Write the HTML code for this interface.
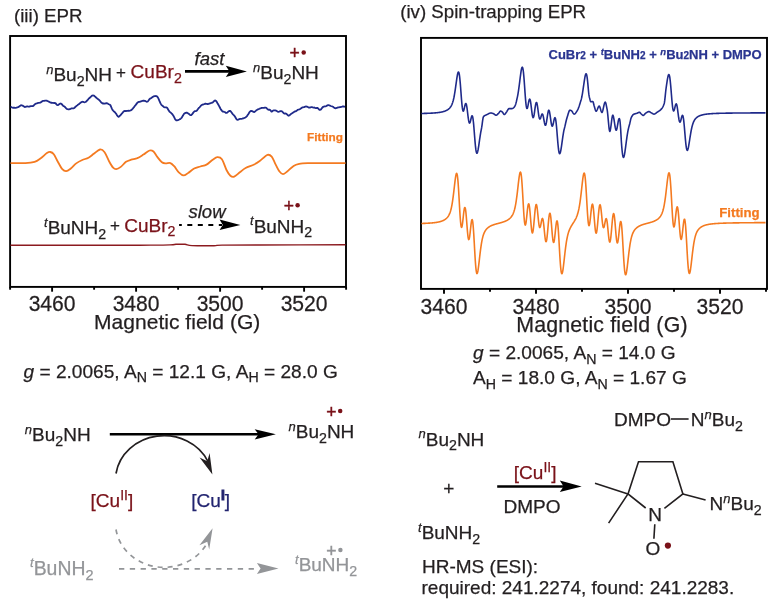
<!DOCTYPE html>
<html><head><meta charset="utf-8"><title>EPR</title>
<style>
html,body{margin:0;padding:0;background:#fff;}
body{width:780px;height:607px;overflow:hidden;}
svg{display:block;will-change:transform;font-family:'Liberation Sans', Arial, Helvetica, sans-serif;}
</style></head><body>
<svg width="780" height="607" viewBox="0 0 780 607">

<text x="14" y="21.7" font-size="18.7" fill="#231f20" stroke="#231f20" stroke-width="0.25">(iii) EPR</text>
<text x="400.2" y="18.3" font-size="18.7" fill="#231f20" stroke="#231f20" stroke-width="0.25">(iv) Spin-trapping EPR</text>
<g fill="none" stroke="#000" stroke-width="1.9">
<rect x="10.1" y="36" width="335.9" height="250.9"/>
<line x1="10.1" y1="286.9" x2="10.1" y2="289.7"/>
<line x1="52.1" y1="286.9" x2="52.1" y2="291.7"/>
<line x1="94.1" y1="286.9" x2="94.1" y2="289.7"/>
<line x1="136.1" y1="286.9" x2="136.1" y2="291.7"/>
<line x1="178.1" y1="286.9" x2="178.1" y2="289.7"/>
<line x1="220.1" y1="286.9" x2="220.1" y2="291.7"/>
<line x1="262.1" y1="286.9" x2="262.1" y2="289.7"/>
<line x1="304.1" y1="286.9" x2="304.1" y2="291.7"/>
<line x1="346.1" y1="286.9" x2="346.1" y2="289.7"/>
<rect x="421" y="37.9" width="346" height="251"/>
<line x1="444.0" y1="288.9" x2="444.0" y2="293.7"/>
<line x1="490.0" y1="288.9" x2="490.0" y2="291.7"/>
<line x1="536.0" y1="288.9" x2="536.0" y2="293.7"/>
<line x1="582.0" y1="288.9" x2="582.0" y2="291.7"/>
<line x1="628.0" y1="288.9" x2="628.0" y2="293.7"/>
<line x1="674.0" y1="288.9" x2="674.0" y2="291.7"/>
<line x1="720.0" y1="288.9" x2="720.0" y2="293.7"/>
<line x1="766.0" y1="288.9" x2="766.0" y2="291.7"/>
</g>
<g font-size="22" fill="#231f20" stroke="#231f20" stroke-width="0.25" text-anchor="middle">
<text transform="translate(52.1,311.3) scale(0.96,1)" x="0" y="0">3460</text>
<text transform="translate(444.0,313.8) scale(0.96,1)" x="0" y="0">3460</text>
<text transform="translate(136.1,311.3) scale(0.96,1)" x="0" y="0">3480</text>
<text transform="translate(536.0,313.8) scale(0.96,1)" x="0" y="0">3480</text>
<text transform="translate(220.1,311.3) scale(0.96,1)" x="0" y="0">3500</text>
<text transform="translate(628.0,313.8) scale(0.96,1)" x="0" y="0">3500</text>
<text transform="translate(304.1,311.3) scale(0.96,1)" x="0" y="0">3520</text>
<text transform="translate(720.0,313.8) scale(0.96,1)" x="0" y="0">3520</text>
</g>
<text x="94" y="329.4" font-size="21" textLength="166.3" lengthAdjust="spacing" fill="#231f20" stroke="#231f20" stroke-width="0.25">Magnetic field (G)</text>
<text x="516.2" y="332.3" font-size="21.3" textLength="171.3" lengthAdjust="spacing" fill="#231f20" stroke="#231f20" stroke-width="0.25">Magnetic field (G)</text>
<path d="M10.50,106.73 L11.25,107.04 L12.00,107.49 L12.75,107.75 L13.50,107.73 L14.25,107.74 L15.00,107.86 L15.75,107.88 L16.50,107.71 L17.25,107.43 L18.00,107.16 L18.75,106.84 L19.50,106.20 L20.25,105.69 L21.00,105.20 L21.75,105.29 L22.50,105.50 L23.25,106.11 L24.00,106.56 L24.75,107.06 L25.50,106.96 L26.25,106.70 L27.00,106.31 L27.75,106.49 L28.50,106.62 L29.25,106.68 L30.00,106.32 L30.75,106.11 L31.50,106.09 L32.25,106.14 L33.00,106.04 L33.75,105.43 L34.50,104.60 L35.25,103.95 L36.00,103.56 L36.75,103.35 L37.50,103.08 L38.25,102.91 L39.00,102.78 L39.75,102.67 L40.50,102.52 L41.25,101.94 L42.00,101.40 L42.75,100.97 L43.50,100.91 L44.25,100.91 L45.00,100.72 L45.75,100.54 L46.50,100.58 L47.25,100.93 L48.00,101.26 L48.75,101.58 L49.50,101.97 L50.25,102.40 L51.00,102.73 L51.75,102.77 L52.50,102.95 L53.25,102.96 L54.00,103.03 L54.75,102.83 L55.50,103.19 L56.25,104.10 L57.00,104.99 L57.75,105.17 L58.50,104.69 L59.25,104.09 L60.00,103.73 L60.75,103.51 L61.50,104.00 L62.25,104.74 L63.00,105.66 L63.75,106.13 L64.50,106.52 L65.25,107.26 L66.00,108.16 L66.75,108.96 L67.50,109.20 L68.25,109.29 L69.00,109.25 L69.75,109.07 L70.50,108.82 L71.25,108.46 L72.00,108.43 L72.75,108.40 L73.50,108.38 L74.25,107.97 L75.00,107.27 L75.75,106.57 L76.50,105.85 L77.25,105.40 L78.00,104.71 L78.75,104.25 L79.50,103.52 L80.25,102.98 L81.00,102.34 L81.75,101.94 L82.50,101.75 L83.25,101.86 L84.00,102.08 L84.75,102.28 L85.50,101.99 L86.25,101.51 L87.00,100.71 L87.75,99.88 L88.50,98.95 L89.25,98.21 L90.00,97.54 L90.75,96.80 L91.50,96.05 L92.25,95.60 L93.00,95.51 L93.75,95.61 L94.50,96.10 L95.25,96.68 L96.00,97.55 L96.75,98.11 L97.50,98.76 L98.25,99.24 L99.00,99.90 L99.75,100.65 L100.50,101.53 L101.25,102.55 L102.00,103.07 L102.75,103.58 L103.50,103.47 L104.25,103.71 L105.00,103.50 L105.75,103.39 L106.50,103.15 L107.25,103.29 L108.00,103.78 L108.75,104.20 L109.50,104.53 L110.25,104.99 L111.00,106.49 L111.75,108.37 L112.50,109.89 L113.25,110.76 L114.00,111.57 L114.75,112.08 L115.50,112.97 L116.25,113.88 L117.00,115.26 L117.75,116.30 L118.50,116.83 L119.25,116.48 L120.00,115.73 L120.75,114.84 L121.50,113.96 L122.25,113.15 L123.00,112.20 L123.75,111.39 L124.50,110.98 L125.25,110.94 L126.00,111.02 L126.75,110.81 L127.50,110.78 L128.25,110.74 L129.00,110.89 L129.75,110.68 L130.50,110.42 L131.25,110.07 L132.00,109.46 L132.75,108.63 L133.50,107.70 L134.25,106.86 L135.00,105.74 L135.75,104.88 L136.50,103.86 L137.25,102.92 L138.00,102.23 L138.75,101.90 L139.50,101.90 L140.25,101.67 L141.00,101.44 L141.75,101.01 L142.50,100.83 L143.25,100.69 L144.00,100.75 L144.75,100.81 L145.50,101.12 L146.25,101.49 L147.00,101.79 L147.75,101.47 L148.50,100.53 L149.25,99.42 L150.00,98.65 L150.75,98.33 L151.50,97.90 L152.25,97.27 L153.00,96.69 L153.75,96.33 L154.50,96.08 L155.25,96.04 L156.00,95.97 L156.75,96.37 L157.50,96.83 L158.25,98.14 L159.00,99.82 L159.75,101.74 L160.50,103.36 L161.25,104.55 L162.00,105.35 L162.75,105.98 L163.50,106.65 L164.25,107.12 L165.00,107.39 L165.75,107.30 L166.50,107.33 L167.25,107.96 L168.00,109.20 L168.75,110.58 L169.50,111.65 L170.25,112.27 L171.00,112.86 L171.75,113.55 L172.50,114.41 L173.25,115.49 L174.00,116.86 L174.75,118.46 L175.50,119.67 L176.25,120.40 L177.00,120.36 L177.75,120.17 L178.50,119.87 L179.25,119.54 L180.00,119.19 L180.75,118.59 L181.50,117.93 L182.25,116.73 L183.00,115.58 L183.75,114.17 L184.50,113.52 L185.25,112.93 L186.00,112.76 L186.75,112.66 L187.50,113.04 L188.25,113.54 L189.00,114.03 L189.75,114.69 L190.50,115.11 L191.25,115.06 L192.00,114.39 L192.75,113.40 L193.50,112.40 L194.25,111.53 L195.00,111.15 L195.75,111.17 L196.50,110.99 L197.25,110.11 L198.00,108.93 L198.75,107.95 L199.50,107.31 L200.25,106.50 L201.00,105.67 L201.75,104.97 L202.50,104.64 L203.25,104.50 L204.00,104.22 L204.75,103.94 L205.50,103.60 L206.25,103.81 L207.00,103.92 L207.75,104.17 L208.50,103.95 L209.25,103.69 L210.00,103.30 L210.75,103.03 L211.50,102.95 L212.25,102.71 L213.00,102.22 L213.75,101.44 L214.50,100.80 L215.25,100.42 L216.00,100.92 L216.75,101.84 L217.50,103.27 L218.25,104.50 L219.00,105.88 L219.75,107.28 L220.50,108.73 L221.25,109.93 L222.00,110.88 L222.75,111.60 L223.50,111.71 L224.25,111.94 L225.00,112.10 L225.75,112.78 L226.50,112.91 L227.25,112.60 L228.00,111.89 L228.75,111.25 L229.50,110.90 L230.25,110.97 L231.00,111.66 L231.75,112.71 L232.50,113.85 L233.25,114.64 L234.00,115.35 L234.75,116.29 L235.50,117.55 L236.25,118.93 L237.00,119.73 L237.75,119.92 L238.50,119.56 L239.25,119.12 L240.00,118.92 L240.75,118.91 L241.50,118.79 L242.25,118.68 L243.00,118.45 L243.75,118.26 L244.50,117.82 L245.25,117.62 L246.00,117.08 L246.75,116.44 L247.50,115.33 L248.25,114.23 L249.00,112.97 L249.75,111.84 L250.50,111.15 L251.25,110.89 L252.00,111.03 L252.75,111.42 L253.50,111.86 L254.25,112.02 L255.00,111.49 L255.75,110.87 L256.50,110.17 L257.25,109.74 L258.00,109.33 L258.75,108.99 L259.50,108.77 L260.25,108.41 L261.00,108.20 L261.75,107.90 L262.50,107.85 L263.25,107.86 L264.00,107.93 L264.75,107.68 L265.50,107.54 L266.25,107.77 L267.00,108.64 L267.75,109.42 L268.50,109.75 L269.25,109.71 L270.00,109.95 L270.75,110.70 L271.50,111.61 L272.25,111.31 L273.00,110.54 L273.75,110.39 L274.50,110.38 L275.25,110.45 L276.00,110.64 L276.75,111.03 L277.50,111.48 L278.25,111.84 L279.00,111.67 L279.75,111.44 L280.50,111.07 L281.25,111.16 L282.00,111.39 L282.75,112.15 L283.50,113.03 L284.25,113.57 L285.00,113.65 L285.75,113.50 L286.50,113.85 L287.25,114.58 L288.00,115.40 L288.75,115.74 L289.50,115.31 L290.25,114.59 L291.00,113.92 L291.75,113.50 L292.50,113.06 L293.25,112.42 L294.00,111.94 L294.75,111.48 L295.50,111.37 L296.25,110.90 L297.00,110.41 L297.75,109.76 L298.50,109.53 L299.25,109.35 L300.00,109.14 L300.75,108.58 L301.50,107.99 L302.25,107.48 L303.00,107.29 L303.75,107.18 L304.50,107.00 L305.25,106.71 L306.00,106.39 L306.75,106.52 L307.50,106.82 L308.25,107.31 L309.00,107.51 L309.75,107.56 L310.50,107.30 L311.25,107.13 L312.00,107.22 L312.75,107.40 L313.50,107.56 L314.25,107.51 L315.00,107.87 L315.75,108.01 L316.50,108.11 L317.25,107.81 L318.00,108.35 L318.75,109.07 L319.50,109.94 L320.25,109.78 L321.00,109.40 L321.75,108.27 L322.50,107.48 L323.25,106.76 L324.00,106.52 L324.75,106.46 L325.50,106.26 L326.25,106.07 L327.00,105.62 L327.75,105.24 L328.50,105.09 L329.25,105.27 L330.00,105.67 L330.75,106.00 L331.50,106.25 L332.25,106.47 L333.00,106.79 L333.75,107.36 L334.50,107.91 L335.25,108.33 L336.00,108.21 L336.75,107.96 L337.50,107.62 L338.25,107.37 L339.00,107.35 L339.75,107.16 L340.50,107.17 L341.25,106.82 L342.00,106.67 L342.75,106.49 L343.50,106.50 L344.25,106.66 L345.00,106.73" fill="none" stroke="#1f2a8a" stroke-width="1.8" stroke-linejoin="round"/>
<path d="M10.5,163.1C13.0,163.1 21.4,163.3 25.4,163.1C29.4,162.9 32.0,162.6 34.6,161.8C37.2,161.0 38.8,159.6 40.8,158.2C42.8,156.8 45.3,154.1 46.9,153.1C48.5,152.1 49.1,151.8 50.3,152.0C51.4,152.2 52.6,152.6 53.8,154.2C55.0,155.8 56.3,159.0 57.7,161.5C59.1,164.0 60.9,167.6 62.3,169.2C63.7,170.8 64.8,171.3 66.2,171.2C67.6,171.1 69.1,169.8 70.8,168.5C72.5,167.2 74.3,164.8 76.2,163.4C78.1,162.0 80.2,160.9 82.3,160.0C84.3,159.1 86.6,158.7 88.5,157.7C90.4,156.7 91.9,155.2 93.8,153.8C95.7,152.4 98.2,149.8 100.0,149.5C101.8,149.2 103.1,150.3 104.6,152.3C106.1,154.3 107.8,158.9 109.2,161.5C110.6,164.1 111.9,166.4 113.1,167.7C114.3,169.0 114.9,169.3 116.2,169.2C117.5,169.1 119.2,168.1 120.8,166.9C122.4,165.7 124.3,163.0 126.0,161.8C127.7,160.6 129.3,160.3 131.2,159.7C133.1,159.1 135.2,159.0 137.3,158.2C139.4,157.3 141.4,155.9 143.5,154.6C145.6,153.3 147.9,151.0 149.6,150.5C151.3,150.0 152.2,150.4 153.5,151.5C154.8,152.6 155.9,155.1 157.3,156.9C158.7,158.7 160.5,161.2 161.9,162.3C163.3,163.4 164.4,163.3 165.8,163.4C167.2,163.5 169.0,162.6 170.4,163.1C171.8,163.6 172.8,164.7 174.2,166.2C175.6,167.7 177.2,170.8 178.8,172.3C180.4,173.8 181.9,175.3 183.5,175.4C185.1,175.5 186.3,174.2 188.1,173.1C189.9,171.9 192.1,169.6 194.2,168.5C196.2,167.4 198.3,167.2 200.4,166.5C202.5,165.8 204.4,165.7 206.5,164.6C208.6,163.5 210.9,160.9 212.7,159.7C214.5,158.5 215.8,157.3 217.3,157.2C218.8,157.1 220.4,157.1 221.9,159.2C223.4,161.3 225.1,167.2 226.5,170.0C227.9,172.8 229.1,174.6 230.4,175.7C231.7,176.8 232.6,177.2 234.2,176.6C235.8,176.0 237.9,173.7 239.8,172.3C241.7,170.9 243.2,169.3 245.6,168.0C248.0,166.7 251.8,165.7 254.1,164.5C256.4,163.3 257.5,162.6 259.7,161.0C261.9,159.4 265.5,155.6 267.5,154.9C269.5,154.2 270.4,155.2 271.7,156.7C273.0,158.2 274.0,161.3 275.3,163.8C276.6,166.3 278.2,169.8 279.5,171.5C280.8,173.2 281.7,174.1 283.0,174.1C284.3,174.1 285.4,172.9 287.2,171.5C289.0,170.1 291.6,167.2 293.6,165.9C295.6,164.6 296.9,164.3 299.2,163.8C301.5,163.3 304.2,163.2 307.7,163.1C311.2,163.0 313.7,163.1 320.0,163.1C326.3,163.1 341.2,163.1 345.5,163.1" fill="none" stroke="#f47a20" stroke-width="1.8" stroke-linejoin="round"/>
<path d="M10.5,245.3C25.4,245.3 78.4,245.3 100.0,245.3C121.6,245.3 128.3,245.3 140.0,245.2C151.7,245.1 164.0,245.1 170.0,244.9C176.0,244.8 173.5,244.4 176.0,244.3C178.5,244.2 182.3,244.1 185.0,244.3C187.7,244.5 187.2,245.4 192.0,245.6C196.8,245.8 209.0,245.8 214.0,245.7C219.0,245.6 214.3,245.2 222.0,245.1C229.7,245.0 239.4,245.1 260.0,245.0C280.6,244.9 331.2,244.8 345.5,244.7" fill="none" stroke="#8b1a1f" stroke-width="1.4"/>
<text x="307" y="140.8" font-size="11.8" font-weight="bold" fill="#f47a20" stroke="#f47a20" stroke-width="0.25">Fitting</text>
<path d="M421.46,113.48 L421.71,113.48 L421.95,113.47 L422.20,113.47 L422.44,113.46 L422.69,113.46 L422.94,113.45 L423.18,113.44 L423.43,113.44 L423.67,113.43 L423.92,113.42 L424.17,113.42 L424.41,113.41 L424.66,113.40 L424.90,113.40 L425.15,113.39 L425.40,113.38 L425.64,113.38 L425.89,113.37 L426.13,113.36 L426.38,113.35 L426.62,113.34 L426.87,113.34 L427.12,113.33 L427.36,113.32 L427.61,113.31 L427.85,113.30 L428.10,113.29 L428.35,113.28 L428.59,113.27 L428.84,113.26 L429.08,113.25 L429.33,113.24 L429.58,113.23 L429.82,113.22 L430.07,113.21 L430.31,113.20 L430.56,113.18 L430.81,113.17 L431.05,113.16 L431.30,113.15 L431.54,113.13 L431.79,113.12 L432.04,113.11 L432.28,113.09 L432.53,113.08 L432.77,113.06 L433.02,113.05 L433.27,113.03 L433.51,113.01 L433.76,113.00 L434.00,112.98 L434.25,112.96 L434.50,112.94 L434.74,112.92 L434.99,112.90 L435.23,112.88 L435.48,112.86 L435.72,112.84 L435.97,112.82 L436.22,112.80 L436.46,112.77 L436.71,112.75 L436.95,112.72 L437.20,112.70 L437.45,112.67 L437.69,112.64 L437.94,112.61 L438.18,112.58 L438.43,112.55 L438.68,112.52 L438.92,112.48 L439.17,112.45 L439.41,112.41 L439.66,112.38 L439.91,112.34 L440.15,112.30 L440.40,112.26 L440.64,112.21 L440.89,112.17 L441.14,112.12 L441.38,112.07 L441.63,112.02 L441.87,111.97 L442.12,111.91 L442.37,111.86 L442.61,111.80 L442.86,111.74 L443.10,111.67 L443.35,111.60 L443.60,111.53 L443.84,111.46 L444.09,111.38 L444.33,111.30 L444.58,111.22 L444.82,111.13 L445.07,111.04 L445.32,110.94 L445.56,110.84 L445.81,110.73 L446.05,110.62 L446.30,110.50 L446.55,110.38 L446.79,110.25 L447.04,110.11 L447.28,109.97 L447.53,109.82 L447.78,109.66 L448.02,109.49 L448.27,109.31 L448.51,109.12 L448.76,108.91 L449.01,108.70 L449.25,108.47 L449.50,108.22 L449.74,107.96 L449.99,107.68 L450.24,107.37 L450.48,107.04 L450.73,106.68 L450.97,106.30 L451.22,105.87 L451.47,105.41 L451.71,104.91 L451.96,104.35 L452.20,103.74 L452.45,103.08 L452.70,102.34 L452.94,101.54 L453.19,100.65 L453.43,99.69 L453.68,98.63 L453.93,97.49 L454.17,96.25 L454.42,94.91 L454.66,93.49 L454.91,91.97 L455.15,90.37 L455.40,88.70 L455.65,86.97 L455.89,85.20 L456.14,83.41 L456.38,81.62 L456.63,79.88 L456.88,78.20 L457.12,76.64 L457.37,75.24 L457.61,74.03 L457.86,73.06 L458.11,72.39 L458.35,72.04 L458.60,72.07 L458.84,72.50 L459.09,73.36 L459.34,74.66 L459.58,76.39 L459.83,78.55 L460.07,81.08 L460.32,83.94 L460.57,87.04 L460.81,90.30 L461.06,93.61 L461.30,96.87 L461.55,99.97 L461.80,102.82 L462.04,105.33 L462.29,107.42 L462.53,109.05 L462.78,110.20 L463.03,110.87 L463.27,111.09 L463.52,110.89 L463.76,110.34 L464.01,109.51 L464.25,108.50 L464.50,107.38 L464.75,106.26 L464.99,105.23 L465.24,104.37 L465.48,103.76 L465.73,103.47 L465.98,103.54 L466.22,104.00 L466.47,104.85 L466.71,106.07 L466.96,107.63 L467.21,109.45 L467.45,111.47 L467.70,113.58 L467.94,115.61 L468.19,117.53 L468.44,119.26 L468.68,120.73 L468.93,121.87 L469.17,122.65 L469.42,123.05 L469.67,123.09 L469.91,122.77 L470.16,122.17 L470.40,121.33 L470.65,120.32 L470.90,119.25 L471.14,118.18 L471.39,117.22 L471.63,116.45 L471.88,115.95 L472.13,115.79 L472.37,116.03 L472.62,116.72 L472.86,117.86 L473.11,119.47 L473.35,121.51 L473.60,123.94 L473.85,126.70 L474.09,129.69 L474.34,132.83 L474.58,136.00 L474.83,139.11 L475.08,142.07 L475.32,144.78 L475.57,147.17 L475.81,149.20 L476.06,150.83 L476.31,152.03 L476.55,152.81 L476.80,153.19 L477.04,153.18 L477.29,152.81 L477.54,152.14 L477.78,151.18 L478.03,150.00 L478.27,148.64 L478.52,147.13 L478.77,145.51 L479.01,143.83 L479.26,142.12 L479.50,140.40 L479.75,138.70 L480.00,137.04 L480.24,135.44 L480.49,133.91 L480.73,132.46 L480.98,131.10 L481.23,129.83 L481.47,128.63 L481.72,127.23 L481.96,125.61 L482.21,123.82 L482.45,121.96 L482.70,120.15 L482.95,118.56 L483.19,117.36 L483.44,116.71 L483.68,116.41 L483.93,116.18 L484.18,115.98 L484.42,115.81 L484.67,115.65 L484.91,115.52 L485.16,115.39 L485.41,115.28 L485.65,115.17 L485.90,115.07 L486.14,114.96 L486.39,114.85 L486.64,114.73 L486.88,114.61 L487.13,114.48 L487.37,114.35 L487.62,114.22 L487.87,114.08 L488.11,113.95 L488.36,113.82 L488.60,113.70 L488.85,113.58 L489.10,113.47 L489.34,113.37 L489.59,113.27 L489.83,113.19 L490.08,113.12 L490.33,113.07 L490.57,113.03 L490.82,113.01 L491.06,113.00 L491.31,113.02 L491.55,113.05 L491.80,113.10 L492.05,113.17 L492.29,113.24 L492.54,113.33 L492.78,113.41 L493.03,113.50 L493.28,113.59 L493.52,113.70 L493.77,113.83 L494.01,114.00 L494.26,114.18 L494.51,114.37 L494.75,114.56 L495.00,114.74 L495.24,114.91 L495.49,115.04 L495.74,115.14 L495.98,115.19 L496.23,115.19 L496.47,115.12 L496.72,115.00 L496.97,114.83 L497.21,114.63 L497.46,114.40 L497.70,114.16 L497.95,113.92 L498.20,113.69 L498.44,113.46 L498.69,113.18 L498.93,112.85 L499.18,112.49 L499.43,112.13 L499.67,111.80 L499.92,111.51 L500.16,111.28 L500.41,111.14 L500.65,111.10 L500.90,111.14 L501.15,111.23 L501.39,111.36 L501.64,111.52 L501.88,111.69 L502.13,111.87 L502.38,112.06 L502.62,112.34 L502.87,112.71 L503.11,113.12 L503.36,113.54 L503.61,113.92 L503.85,114.24 L504.10,114.44 L504.34,114.50 L504.59,114.42 L504.84,114.24 L505.08,113.98 L505.33,113.68 L505.57,113.34 L505.82,112.99 L506.07,112.66 L506.31,112.36 L506.56,112.01 L506.80,111.62 L507.05,111.19 L507.30,110.75 L507.54,110.31 L507.79,109.89 L508.03,109.50 L508.28,109.17 L508.53,108.89 L508.77,108.70 L509.02,108.61 L509.26,108.60 L509.51,108.60 L509.76,108.60 L510.00,108.60 L510.25,108.60 L510.49,108.60 L510.74,108.60 L510.98,108.60 L511.23,108.60 L511.48,108.60 L511.72,108.60 L511.97,108.60 L512.21,108.56 L512.46,108.48 L512.71,108.37 L512.95,108.21 L513.20,108.03 L513.44,107.83 L513.69,107.61 L513.94,107.37 L514.18,107.12 L514.43,106.83 L514.67,106.46 L514.92,106.01 L515.17,105.49 L515.41,104.89 L515.66,104.20 L515.90,103.39 L516.15,102.47 L516.40,101.49 L516.64,100.40 L516.89,99.26 L517.13,98.16 L517.38,97.06 L517.63,95.85 L517.87,94.52 L518.12,93.09 L518.36,91.55 L518.61,89.92 L518.86,88.19 L519.10,86.38 L519.35,84.49 L519.59,82.56 L519.84,80.59 L520.08,78.62 L520.33,76.68 L520.58,74.80 L520.82,73.02 L521.07,71.39 L521.31,69.96 L521.56,68.77 L521.81,67.88 L522.05,67.33 L522.30,67.17 L522.54,67.43 L522.79,68.14 L523.04,69.33 L523.28,71.00 L523.53,73.13 L523.77,75.69 L524.02,78.62 L524.27,81.85 L524.51,85.28 L524.76,88.82 L525.00,92.34 L525.25,95.73 L525.50,98.88 L525.74,101.68 L525.99,104.06 L526.23,105.96 L526.48,107.34 L526.73,108.19 L526.97,108.52 L527.22,108.39 L527.46,107.84 L527.71,106.95 L527.96,105.82 L528.20,104.54 L528.45,103.21 L528.69,101.93 L528.94,100.81 L529.18,99.92 L529.43,99.34 L529.68,99.13 L529.92,99.33 L530.17,99.95 L530.41,100.98 L530.66,102.38 L530.91,104.09 L531.15,106.03 L531.40,108.10 L531.64,110.20 L531.89,112.21 L532.14,114.01 L532.38,115.48 L532.63,116.60 L532.87,117.32 L533.12,117.61 L533.37,117.47 L533.61,116.92 L533.86,115.99 L534.10,114.75 L534.35,113.25 L534.60,111.53 L534.84,109.73 L535.09,107.96 L535.33,106.31 L535.58,104.86 L535.83,103.70 L536.07,102.89 L536.32,102.48 L536.56,102.50 L536.81,102.95 L537.06,103.82 L537.30,105.06 L537.55,106.60 L537.79,108.36 L538.04,110.24 L538.28,112.15 L538.53,113.96 L538.78,115.54 L539.02,116.89 L539.27,117.93 L539.51,118.64 L539.76,119.01 L540.01,119.05 L540.25,118.80 L540.50,118.29 L540.74,117.61 L540.99,116.82 L541.24,116.00 L541.48,115.23 L541.73,114.60 L541.97,114.16 L542.22,113.97 L542.47,114.06 L542.71,114.45 L542.96,115.14 L543.20,116.09 L543.45,117.27 L543.70,118.59 L543.94,119.99 L544.19,121.37 L544.43,122.66 L544.68,123.75 L544.93,124.59 L545.17,125.12 L545.42,125.29 L545.66,125.10 L545.91,124.55 L546.16,123.66 L546.40,122.48 L546.65,121.06 L546.89,119.48 L547.14,117.81 L547.38,116.14 L547.63,114.55 L547.88,113.09 L548.12,111.85 L548.37,110.92 L548.61,110.35 L548.86,110.19 L549.11,110.45 L549.35,111.11 L549.60,112.16 L549.84,113.55 L550.09,115.12 L550.34,116.86 L550.58,118.67 L550.83,120.45 L551.07,122.11 L551.32,123.56 L551.57,124.74 L551.81,125.59 L552.06,126.07 L552.30,126.19 L552.55,125.96 L552.80,125.40 L553.04,124.57 L553.29,123.55 L553.53,122.39 L553.78,121.20 L554.03,120.06 L554.27,119.06 L554.52,118.28 L554.76,117.80 L555.01,117.69 L555.26,118.00 L555.50,118.77 L555.75,119.99 L555.99,121.68 L556.24,123.79 L556.48,126.26 L556.73,129.03 L556.98,132.01 L557.22,135.09 L557.47,138.18 L557.71,141.18 L557.96,143.98 L558.21,146.52 L558.45,148.72 L558.70,150.55 L558.94,151.96 L559.19,152.96 L559.44,153.54 L559.68,153.72 L559.93,153.54 L560.17,153.01 L560.42,152.18 L560.67,151.10 L560.91,149.81 L561.16,148.35 L561.40,146.76 L561.65,145.08 L561.90,143.35 L562.14,141.59 L562.39,139.84 L562.63,138.12 L562.88,136.45 L563.13,134.84 L563.37,133.30 L563.62,131.85 L563.86,130.60 L564.11,129.54 L564.36,128.59 L564.60,127.64 L564.85,126.65 L565.09,125.59 L565.34,124.50 L565.59,123.38 L565.83,122.29 L566.08,121.25 L566.32,120.26 L566.57,119.31 L566.81,118.42 L567.06,117.57 L567.31,116.78 L567.55,115.98 L567.80,115.15 L568.04,114.30 L568.29,113.47 L568.54,112.68 L568.78,111.96 L569.03,111.32 L569.27,110.81 L569.52,110.43 L569.77,110.23 L570.01,110.20 L570.26,110.24 L570.50,110.31 L570.75,110.41 L571.00,110.53 L571.24,110.66 L571.49,110.79 L571.73,110.98 L571.98,111.25 L572.23,111.60 L572.47,111.99 L572.72,112.41 L572.96,112.83 L573.21,113.22 L573.46,113.57 L573.70,113.85 L573.95,114.03 L574.19,114.10 L574.44,114.06 L574.69,113.96 L574.93,113.79 L575.18,113.57 L575.42,113.30 L575.67,112.99 L575.91,112.65 L576.16,112.28 L576.41,111.90 L576.65,111.51 L576.90,111.12 L577.14,110.73 L577.39,110.32 L577.64,109.86 L577.88,109.37 L578.13,108.83 L578.37,108.25 L578.62,107.64 L578.87,106.99 L579.11,106.30 L579.36,105.58 L579.60,104.83 L579.85,104.04 L580.10,103.21 L580.34,102.37 L580.59,101.54 L580.83,100.75 L581.08,99.96 L581.33,99.13 L581.57,98.17 L581.82,97.02 L582.06,95.70 L582.31,94.29 L582.56,92.80 L582.80,91.24 L583.05,89.61 L583.29,87.93 L583.54,86.22 L583.79,84.50 L584.03,82.78 L584.28,81.11 L584.52,79.52 L584.77,78.04 L585.01,76.72 L585.26,75.59 L585.51,74.70 L585.75,74.08 L586.00,73.79 L586.24,73.85 L586.49,74.30 L586.74,75.15 L586.98,76.42 L587.23,78.09 L587.47,80.14 L587.72,82.53 L587.97,85.18 L588.21,87.94 L588.46,90.63 L588.70,93.02 L588.95,94.96 L589.20,96.40 L589.44,97.46 L589.69,98.36 L589.93,99.37 L590.18,100.38 L590.43,101.22 L590.67,101.72 L590.92,101.80 L591.16,101.77 L591.41,101.73 L591.66,101.68 L591.90,101.63 L592.15,101.58 L592.39,101.53 L592.64,101.51 L592.89,101.53 L593.13,101.94 L593.38,102.72 L593.62,103.71 L593.87,104.77 L594.11,105.78 L594.36,106.58 L594.61,107.39 L594.85,108.26 L595.10,109.12 L595.34,109.92 L595.59,110.57 L595.84,111.02 L596.08,111.20 L596.33,111.12 L596.57,110.88 L596.82,110.50 L597.07,110.02 L597.31,109.47 L597.56,108.88 L597.80,108.27 L598.05,107.68 L598.30,107.15 L598.54,106.69 L598.79,106.35 L599.03,106.14 L599.28,106.12 L599.53,106.35 L599.77,106.83 L600.02,107.48 L600.26,108.26 L600.51,109.11 L600.76,109.96 L601.00,110.77 L601.25,111.47 L601.49,112.01 L601.74,112.34 L601.99,112.38 L602.23,112.11 L602.48,111.57 L602.72,110.80 L602.97,109.86 L603.21,108.80 L603.46,107.67 L603.71,106.52 L603.95,105.40 L604.20,104.37 L604.44,103.47 L604.69,102.76 L604.94,102.29 L605.18,102.10 L605.43,102.27 L605.67,102.78 L605.92,103.58 L606.17,104.61 L606.41,105.79 L606.66,107.07 L606.90,108.38 L607.15,109.67 L607.40,111.34 L607.64,113.47 L607.89,115.95 L608.13,118.62 L608.38,121.35 L608.63,124.01 L608.87,126.46 L609.12,128.55 L609.36,130.16 L609.61,131.15 L609.86,131.38 L610.10,130.94 L610.35,129.98 L610.59,128.60 L610.84,126.91 L611.09,125.03 L611.33,123.05 L611.58,121.08 L611.82,119.23 L612.07,117.62 L612.31,116.33 L612.56,115.49 L612.81,115.20 L613.05,115.44 L613.30,116.08 L613.54,117.06 L613.79,118.30 L614.04,119.74 L614.28,121.31 L614.53,122.94 L614.77,124.56 L615.02,126.11 L615.27,127.51 L615.51,128.70 L615.76,129.60 L616.00,130.16 L616.25,130.29 L616.50,129.98 L616.74,129.28 L616.99,128.29 L617.23,127.06 L617.48,125.69 L617.73,124.25 L617.97,122.81 L618.22,121.47 L618.46,120.28 L618.71,119.34 L618.96,118.72 L619.20,118.50 L619.45,118.75 L619.69,119.48 L619.94,120.85 L620.19,123.00 L620.43,125.97 L620.68,129.66 L620.92,133.85 L621.17,138.18 L621.41,142.22 L621.66,145.57 L621.91,148.47 L622.15,151.02 L622.40,153.19 L622.64,154.91 L622.89,156.19 L623.14,157.01 L623.38,157.39 L623.63,157.35 L623.87,156.93 L624.12,156.17 L624.37,155.12 L624.61,153.82 L624.86,152.32 L625.10,150.66 L625.35,148.89 L625.60,147.05 L625.84,145.17 L626.09,143.29 L626.33,141.43 L626.58,139.62 L626.83,137.87 L627.07,136.19 L627.32,134.61 L627.56,133.11 L627.81,131.72 L628.06,130.42 L628.30,129.22 L628.55,128.11 L628.79,127.10 L629.04,126.17 L629.29,125.32 L629.53,124.45 L629.78,123.50 L630.02,122.44 L630.27,121.30 L630.52,120.17 L630.76,119.14 L631.01,118.31 L631.25,117.69 L631.50,117.18 L631.74,116.69 L631.99,116.24 L632.24,115.82 L632.48,115.44 L632.73,115.11 L632.97,114.83 L633.22,114.60 L633.47,114.42 L633.71,114.29 L633.96,114.17 L634.20,114.07 L634.45,113.98 L634.70,113.89 L634.94,113.82 L635.19,113.75 L635.43,113.69 L635.68,113.62 L635.93,113.56 L636.17,113.49 L636.42,113.42 L636.66,113.35 L636.91,113.26 L637.16,113.16 L637.40,113.05 L637.65,112.93 L637.89,112.80 L638.14,112.69 L638.39,112.58 L638.63,112.48 L638.88,112.40 L639.12,112.34 L639.37,112.30 L639.62,112.32 L639.86,112.44 L640.11,112.66 L640.35,112.95 L640.60,113.25 L640.84,113.55 L641.09,113.79 L641.34,114.01 L641.58,114.26 L641.83,114.51 L642.07,114.75 L642.32,114.97 L642.57,115.16 L642.81,115.31 L643.06,115.39 L643.30,115.39 L643.55,115.31 L643.80,115.16 L644.04,114.96 L644.29,114.71 L644.53,114.43 L644.78,114.13 L645.03,113.84 L645.27,113.56 L645.52,113.30 L645.76,113.09 L646.01,112.93 L646.26,112.78 L646.50,112.62 L646.75,112.46 L646.99,112.31 L647.24,112.16 L647.49,112.02 L647.73,111.90 L647.98,111.79 L648.22,111.71 L648.47,111.65 L648.72,111.61 L648.96,111.60 L649.21,111.64 L649.45,111.71 L649.70,111.82 L649.94,111.96 L650.19,112.11 L650.44,112.27 L650.68,112.44 L650.93,112.59 L651.17,112.74 L651.42,112.86 L651.67,113.00 L651.91,113.15 L652.16,113.31 L652.40,113.46 L652.65,113.62 L652.90,113.76 L653.14,113.88 L653.39,113.98 L653.63,114.06 L653.88,114.10 L654.13,114.09 L654.37,114.05 L654.62,113.98 L654.86,113.87 L655.11,113.74 L655.36,113.59 L655.60,113.41 L655.85,113.23 L656.09,113.04 L656.34,112.84 L656.59,112.65 L656.83,112.46 L657.08,112.28 L657.32,112.12 L657.57,111.96 L657.82,111.80 L658.06,111.65 L658.31,111.49 L658.55,111.34 L658.80,111.18 L659.04,111.01 L659.29,110.85 L659.54,110.67 L659.78,110.49 L660.03,110.30 L660.27,110.10 L660.52,109.89 L660.77,109.66 L661.01,109.42 L661.26,109.17 L661.50,108.90 L661.75,108.60 L662.00,108.26 L662.24,107.89 L662.49,107.48 L662.73,107.03 L662.98,106.55 L663.23,106.03 L663.47,105.47 L663.72,104.88 L663.96,104.24 L664.21,103.53 L664.46,102.38 L664.70,100.72 L664.95,98.67 L665.19,96.35 L665.44,93.91 L665.69,91.50 L665.93,89.32 L666.18,87.54 L666.42,85.87 L666.67,84.19 L666.92,82.55 L667.16,80.95 L667.41,79.45 L667.65,78.07 L667.90,76.86 L668.14,75.87 L668.39,75.12 L668.64,74.67 L668.88,74.55 L669.13,74.80 L669.37,75.45 L669.62,76.50 L669.87,77.96 L670.11,79.82 L670.36,82.05 L670.60,84.60 L670.85,87.41 L671.10,90.41 L671.34,93.49 L671.59,96.56 L671.83,99.53 L672.08,102.29 L672.33,104.76 L672.57,106.86 L672.82,108.56 L673.06,109.81 L673.31,110.61 L673.56,110.97 L673.80,110.92 L674.05,110.53 L674.29,109.85 L674.54,108.96 L674.79,107.94 L675.03,106.89 L675.28,105.88 L675.52,105.01 L675.77,104.34 L676.02,103.95 L676.26,103.88 L676.51,104.16 L676.75,104.81 L677.00,105.82 L677.24,107.16 L677.49,108.77 L677.74,110.59 L677.98,112.54 L678.23,114.47 L678.47,116.30 L678.72,118.00 L678.97,119.47 L679.21,120.66 L679.46,121.52 L679.70,122.03 L679.95,122.20 L680.20,122.03 L680.44,121.56 L680.69,120.86 L680.93,119.97 L681.18,118.98 L681.43,117.98 L681.67,117.03 L681.92,116.23 L682.16,115.66 L682.41,115.38 L682.66,115.46 L682.90,115.93 L683.15,116.83 L683.39,118.17 L683.64,119.92 L683.89,122.06 L684.13,124.52 L684.38,127.24 L684.62,130.12 L684.87,133.09 L685.12,136.03 L685.36,138.85 L685.61,141.48 L685.85,143.84 L686.10,145.87 L686.35,147.54 L686.59,148.82 L686.84,149.70 L687.08,150.20 L687.33,150.33 L687.57,150.12 L687.82,149.60 L688.07,148.80 L688.31,147.78 L688.56,146.57 L688.80,145.21 L689.05,143.74 L689.30,142.20 L689.54,140.61 L689.79,139.00 L690.03,137.41 L690.28,135.85 L690.53,134.34 L690.77,132.88 L691.02,131.50 L691.26,130.20 L691.51,128.98 L691.76,127.85 L692.00,126.80 L692.25,125.83 L692.49,124.95 L692.74,124.13 L692.99,123.39 L693.23,122.72 L693.48,122.10 L693.72,121.54 L693.97,121.03 L694.22,120.57 L694.46,120.14 L694.71,119.75 L694.95,119.40 L695.20,119.07 L695.45,118.77 L695.69,118.49 L695.94,118.23 L696.18,117.99 L696.43,117.76 L696.67,117.55 L696.92,117.36 L697.17,117.17 L697.41,117.00 L697.66,116.84 L697.90,116.68 L698.15,116.53 L698.40,116.40 L698.64,116.26 L698.89,116.14 L699.13,116.02 L699.38,115.91 L699.63,115.80 L699.87,115.70 L700.12,115.60 L700.36,115.51 L700.61,115.42 L700.86,115.34 L701.10,115.26 L701.35,115.18 L701.59,115.11 L701.84,115.04 L702.09,114.97 L702.33,114.91 L702.58,114.85 L702.82,114.79 L703.07,114.73 L703.32,114.68 L703.56,114.63 L703.81,114.58 L704.05,114.53 L704.30,114.48 L704.55,114.44 L704.79,114.40 L705.04,114.36 L705.28,114.32 L705.53,114.28 L705.77,114.24 L706.02,114.21 L706.27,114.18 L706.51,114.14 L706.76,114.11 L707.00,114.08 L707.25,114.05 L707.50,114.02 L707.74,114.00 L707.99,113.97 L708.23,113.94 L708.48,113.92 L708.73,113.90 L708.97,113.87 L709.22,113.85 L709.46,113.83 L709.71,113.81 L709.96,113.79 L710.20,113.77 L710.45,113.75 L710.69,113.73 L710.94,113.71 L711.19,113.70 L711.43,113.68 L711.68,113.66 L711.92,113.65 L712.17,113.63 L712.42,113.62 L712.66,113.60 L712.91,113.59 L713.15,113.57 L713.40,113.56 L713.65,113.55 L713.89,113.53 L714.14,113.52 L714.38,113.51 L714.63,113.50 L714.87,113.49 L715.12,113.48 L715.37,113.46 L715.61,113.45 L715.86,113.44 L716.10,113.43 L716.35,113.42 L716.60,113.41 L716.84,113.41 L717.09,113.40 L717.33,113.39 L717.58,113.38 L717.83,113.37 L718.07,113.36 L718.32,113.35 L718.56,113.35 L718.81,113.34 L719.06,113.33 L719.30,113.32 L719.55,113.32 L719.79,113.31 L720.04,113.30 L720.29,113.29 L720.53,113.29 L720.78,113.28 L721.02,113.28 L721.27,113.27 L721.52,113.26 L721.76,113.26 L722.01,113.25 L722.25,113.25 L722.50,113.24 L722.75,113.23 L722.99,113.23 L723.24,113.22 L723.48,113.22 L723.73,113.21 L723.97,113.21 L724.22,113.20 L724.47,113.20 L724.71,113.19 L724.96,113.19 L725.20,113.18 L725.45,113.18 L725.70,113.17 L725.94,113.17 L726.19,113.17 L726.43,113.16 L726.68,113.16 L726.93,113.15 L727.17,113.15 L727.42,113.15 L727.66,113.14 L727.91,113.14 L728.16,113.13 L728.40,113.13 L728.65,113.13 L728.89,113.12 L729.14,113.12 L729.39,113.12 L729.63,113.11 L729.88,113.11 L730.12,113.11 L730.37,113.10 L730.62,113.10 L730.86,113.10 L731.11,113.09 L731.35,113.09 L731.60,113.09 L731.85,113.08 L732.09,113.08 L732.34,113.08 L732.58,113.07 L732.83,113.07 L733.07,113.07 L733.32,113.07 L733.57,113.06 L733.81,113.06 L734.06,113.06 L734.30,113.05 L734.55,113.05 L734.80,113.05 L735.04,113.05 L735.29,113.04 L735.53,113.04 L735.78,113.04 L736.03,113.04 L736.27,113.03 L736.52,113.03 L736.76,113.03 L737.01,113.03 L737.26,113.02 L737.50,113.02 L737.75,113.02 L737.99,113.02 L738.24,113.01 L738.49,113.01 L738.73,113.01 L738.98,113.01 L739.22,113.01 L739.47,113.00 L739.72,113.00 L739.96,113.00 L740.21,113.00 L740.45,113.00 L740.70,112.99 L740.95,112.99 L741.19,112.99 L741.44,112.99 L741.68,112.99 L741.93,112.98 L742.18,112.98 L742.42,112.98 L742.67,112.98 L742.91,112.98 L743.16,112.97 L743.40,112.97 L743.65,112.97 L743.90,112.97 L744.14,112.97 L744.39,112.97 L744.63,112.96 L744.88,112.96 L745.13,112.96 L745.37,112.96 L745.62,112.96 L745.86,112.95 L746.11,112.95 L746.36,112.95 L746.60,112.95 L746.85,112.95 L747.09,112.95 L747.34,112.94 L747.59,112.94 L747.83,112.94 L748.08,112.94 L748.32,112.94 L748.57,112.94 L748.82,112.94 L749.06,112.93 L749.31,112.93 L749.55,112.93 L749.80,112.93 L750.05,112.93 L750.29,112.93 L750.54,112.92 L750.78,112.92 L751.03,112.92 L751.28,112.92 L751.52,112.92 L751.77,112.92 L752.01,112.92 L752.26,112.91 L752.50,112.91 L752.75,112.91 L753.00,112.91 L753.24,112.91 L753.49,112.91 L753.73,112.91 L753.98,112.90 L754.23,112.90 L754.47,112.90 L754.72,112.90 L754.96,112.90 L755.21,112.90 L755.46,112.90 L755.70,112.90 L755.95,112.89 L756.19,112.89 L756.44,112.89 L756.69,112.89 L756.93,112.89 L757.18,112.89 L757.42,112.89 L757.67,112.89 L757.92,112.88 L758.16,112.88 L758.41,112.88 L758.65,112.88 L758.90,112.88 L759.15,112.88 L759.39,112.88 L759.64,112.88 L759.88,112.87 L760.13,112.87 L760.38,112.87 L760.62,112.87 L760.87,112.87 L761.11,112.87 L761.36,112.87 L761.60,112.87 L761.85,112.87 L762.10,112.86 L762.34,112.86 L762.59,112.86 L762.83,112.86 L763.08,112.86 L763.33,112.86 L763.57,112.86 L763.82,112.86 L764.06,112.85 L764.31,112.85 L764.56,112.85 L764.80,112.85 L765.05,112.85 L765.29,112.85 L765.54,112.85" fill="none" stroke="#1f2a8a" stroke-width="1.6" stroke-linejoin="round"/>
<path d="M421.46,223.48 L421.71,223.47 L421.95,223.46 L422.20,223.45 L422.44,223.44 L422.69,223.43 L422.94,223.43 L423.18,223.42 L423.43,223.41 L423.67,223.40 L423.92,223.39 L424.17,223.38 L424.41,223.37 L424.66,223.36 L424.90,223.35 L425.15,223.34 L425.40,223.33 L425.64,223.32 L425.89,223.30 L426.13,223.29 L426.38,223.28 L426.62,223.27 L426.87,223.26 L427.12,223.24 L427.36,223.23 L427.61,223.22 L427.85,223.20 L428.10,223.19 L428.35,223.17 L428.59,223.16 L428.84,223.15 L429.08,223.13 L429.33,223.11 L429.58,223.10 L429.82,223.08 L430.07,223.06 L430.31,223.05 L430.56,223.03 L430.81,223.01 L431.05,222.99 L431.30,222.97 L431.54,222.95 L431.79,222.93 L432.04,222.91 L432.28,222.88 L432.53,222.86 L432.77,222.84 L433.02,222.81 L433.27,222.79 L433.51,222.76 L433.76,222.74 L434.00,222.71 L434.25,222.68 L434.50,222.65 L434.74,222.62 L434.99,222.59 L435.23,222.56 L435.48,222.52 L435.72,222.49 L435.97,222.46 L436.22,222.42 L436.46,222.38 L436.71,222.34 L436.95,222.30 L437.20,222.26 L437.45,222.21 L437.69,222.17 L437.94,222.12 L438.18,222.07 L438.43,222.02 L438.68,221.97 L438.92,221.92 L439.17,221.86 L439.41,221.80 L439.66,221.74 L439.91,221.68 L440.15,221.61 L440.40,221.54 L440.64,221.47 L440.89,221.39 L441.14,221.32 L441.38,221.23 L441.63,221.15 L441.87,221.06 L442.12,220.97 L442.37,220.87 L442.61,220.77 L442.86,220.66 L443.10,220.55 L443.35,220.44 L443.60,220.32 L443.84,220.19 L444.09,220.05 L444.33,219.91 L444.58,219.77 L444.82,219.61 L445.07,219.45 L445.32,219.28 L445.56,219.10 L445.81,218.90 L446.05,218.70 L446.30,218.49 L446.55,218.26 L446.79,218.02 L447.04,217.77 L447.28,217.50 L447.53,217.21 L447.78,216.90 L448.02,216.57 L448.27,216.21 L448.51,215.82 L448.76,215.41 L449.01,214.96 L449.25,214.46 L449.50,213.93 L449.74,213.34 L449.99,212.71 L450.24,212.00 L450.48,211.24 L450.73,210.39 L450.97,209.47 L451.22,208.46 L451.47,207.35 L451.71,206.14 L451.96,204.83 L452.20,203.40 L452.45,201.87 L452.70,200.22 L452.94,198.46 L453.19,196.60 L453.43,194.65 L453.68,192.61 L453.93,190.52 L454.17,188.38 L454.42,186.24 L454.66,184.11 L454.91,182.05 L455.15,180.09 L455.40,178.28 L455.65,176.68 L455.89,175.34 L456.14,174.30 L456.38,173.64 L456.63,173.40 L456.88,173.64 L457.12,174.38 L457.37,175.67 L457.61,177.51 L457.86,179.91 L458.11,182.83 L458.35,186.24 L458.60,190.06 L458.84,194.20 L459.09,198.56 L459.34,203.00 L459.58,207.40 L459.83,211.61 L460.07,215.52 L460.32,218.99 L460.57,221.93 L460.81,224.28 L461.06,225.98 L461.30,227.01 L461.55,227.39 L461.80,227.14 L462.04,226.32 L462.29,225.01 L462.53,223.29 L462.78,221.27 L463.03,219.06 L463.27,216.76 L463.52,214.51 L463.76,212.40 L464.01,210.54 L464.25,209.04 L464.50,207.98 L464.75,207.43 L464.99,207.44 L465.24,208.03 L465.48,209.21 L465.73,210.94 L465.98,213.18 L466.22,215.84 L466.47,218.82 L466.71,222.00 L466.96,225.24 L467.21,228.41 L467.45,231.37 L467.70,234.01 L467.94,236.21 L468.19,237.91 L468.44,239.05 L468.68,239.60 L468.93,239.57 L469.17,238.98 L469.42,237.89 L469.67,236.36 L469.91,234.48 L470.16,232.36 L470.40,230.09 L470.65,227.80 L470.90,225.59 L471.14,223.59 L471.39,221.90 L471.63,220.61 L471.88,219.83 L472.13,219.62 L472.37,220.04 L472.62,221.12 L472.86,222.86 L473.11,225.25 L473.35,228.23 L473.60,231.73 L473.85,235.66 L474.09,239.88 L474.34,244.29 L474.58,248.73 L474.83,253.07 L475.08,257.19 L475.32,260.99 L475.57,264.36 L475.81,267.25 L476.06,269.60 L476.31,271.41 L476.55,272.65 L476.80,273.36 L477.04,273.56 L477.29,273.28 L477.54,272.59 L477.78,271.53 L478.03,270.17 L478.27,268.55 L478.52,266.72 L478.77,264.75 L479.01,262.68 L479.26,260.55 L479.50,258.40 L479.75,256.26 L480.00,254.17 L480.24,252.13 L480.49,250.18 L480.73,248.32 L480.98,246.57 L481.23,244.92 L481.47,243.39 L481.72,241.97 L481.96,240.66 L482.21,239.45 L482.45,238.34 L482.70,237.33 L482.95,236.41 L483.19,235.56 L483.44,234.79 L483.68,234.09 L483.93,233.45 L484.18,232.86 L484.42,232.32 L484.67,231.83 L484.91,231.37 L485.16,230.95 L485.41,230.56 L485.65,230.20 L485.90,229.86 L486.14,229.54 L486.39,229.25 L486.64,228.97 L486.88,228.70 L487.13,228.46 L487.37,228.22 L487.62,228.00 L487.87,227.79 L488.11,227.59 L488.36,227.40 L488.60,227.22 L488.85,227.05 L489.10,226.88 L489.34,226.72 L489.59,226.57 L489.83,226.43 L490.08,226.29 L490.33,226.15 L490.57,226.03 L490.82,225.90 L491.06,225.78 L491.31,225.67 L491.55,225.56 L491.80,225.45 L492.05,225.35 L492.29,225.25 L492.54,225.15 L492.78,225.06 L493.03,224.97 L493.28,224.88 L493.52,224.79 L493.77,224.71 L494.01,224.63 L494.26,224.55 L494.51,224.47 L494.75,224.39 L495.00,224.32 L495.24,224.24 L495.49,224.17 L495.74,224.10 L495.98,224.03 L496.23,223.96 L496.47,223.89 L496.72,223.82 L496.97,223.76 L497.21,223.69 L497.46,223.63 L497.70,223.56 L497.95,223.49 L498.20,223.43 L498.44,223.36 L498.69,223.30 L498.93,223.23 L499.18,223.17 L499.43,223.10 L499.67,223.04 L499.92,222.97 L500.16,222.91 L500.41,222.84 L500.65,222.77 L500.90,222.70 L501.15,222.63 L501.39,222.56 L501.64,222.49 L501.88,222.42 L502.13,222.34 L502.38,222.27 L502.62,222.19 L502.87,222.11 L503.11,222.03 L503.36,221.95 L503.61,221.86 L503.85,221.78 L504.10,221.69 L504.34,221.60 L504.59,221.50 L504.84,221.41 L505.08,221.30 L505.33,221.20 L505.57,221.09 L505.82,220.98 L506.07,220.87 L506.31,220.75 L506.56,220.63 L506.80,220.50 L507.05,220.36 L507.30,220.23 L507.54,220.08 L507.79,219.93 L508.03,219.77 L508.28,219.61 L508.53,219.44 L508.77,219.26 L509.02,219.07 L509.26,218.87 L509.51,218.67 L509.76,218.45 L510.00,218.22 L510.25,217.98 L510.49,217.73 L510.74,217.46 L510.98,217.17 L511.23,216.87 L511.48,216.54 L511.72,216.19 L511.97,215.82 L512.21,215.42 L512.46,215.00 L512.71,214.53 L512.95,214.03 L513.20,213.48 L513.44,212.89 L513.69,212.24 L513.94,211.53 L514.18,210.75 L514.43,209.90 L514.67,208.97 L514.92,207.95 L515.17,206.84 L515.41,205.62 L515.66,204.30 L515.90,202.88 L516.15,201.33 L516.40,199.68 L516.64,197.92 L516.89,196.05 L517.13,194.08 L517.38,192.03 L517.63,189.92 L517.87,187.76 L518.12,185.58 L518.36,183.42 L518.61,181.32 L518.86,179.30 L519.10,177.43 L519.35,175.76 L519.59,174.33 L519.84,173.21 L520.08,172.44 L520.33,172.09 L520.58,172.20 L520.82,172.82 L521.07,173.97 L521.31,175.67 L521.56,177.94 L521.81,180.73 L522.05,184.02 L522.30,187.73 L522.54,191.78 L522.79,196.07 L523.04,200.46 L523.28,204.83 L523.53,209.04 L523.77,212.95 L524.02,216.45 L524.27,219.44 L524.51,221.84 L524.76,223.59 L525.00,224.68 L525.25,225.10 L525.50,224.88 L525.74,224.08 L525.99,222.77 L526.23,221.04 L526.48,218.97 L526.73,216.69 L526.97,214.31 L527.22,211.94 L527.46,209.69 L527.71,207.67 L527.96,205.99 L528.20,204.73 L528.45,203.97 L528.69,203.74 L528.94,204.10 L529.18,205.04 L529.43,206.53 L529.68,208.53 L529.92,210.97 L530.17,213.73 L530.41,216.71 L530.66,219.76 L530.91,222.75 L531.15,225.55 L531.40,228.03 L531.64,230.08 L531.89,231.62 L532.14,232.59 L532.38,232.96 L532.63,232.72 L532.87,231.90 L533.12,230.54 L533.37,228.69 L533.61,226.46 L533.86,223.92 L534.10,221.18 L534.35,218.35 L534.60,215.54 L534.84,212.85 L535.09,210.40 L535.33,208.27 L535.58,206.56 L535.83,205.33 L536.07,204.63 L536.32,204.49 L536.56,204.91 L536.81,205.89 L537.06,207.36 L537.30,209.25 L537.55,211.47 L537.79,213.91 L538.04,216.44 L538.28,218.93 L538.53,221.28 L538.78,223.35 L539.02,225.08 L539.27,226.38 L539.51,227.22 L539.76,227.59 L540.01,227.51 L540.25,227.02 L540.50,226.18 L540.74,225.08 L540.99,223.81 L541.24,222.48 L541.48,221.19 L541.73,220.04 L541.97,219.14 L542.22,218.58 L542.47,218.41 L542.71,218.69 L542.96,219.44 L543.20,220.66 L543.45,222.31 L543.70,224.33 L543.94,226.65 L544.19,229.14 L544.43,231.70 L544.68,234.19 L544.93,236.49 L545.17,238.48 L545.42,240.07 L545.66,241.18 L545.91,241.75 L546.16,241.75 L546.40,241.18 L546.65,240.07 L546.89,238.46 L547.14,236.41 L547.38,234.02 L547.63,231.37 L547.88,228.57 L548.12,225.72 L548.37,222.94 L548.61,220.34 L548.86,218.01 L549.11,216.06 L549.35,214.57 L549.60,213.61 L549.84,213.23 L550.09,213.45 L550.34,214.28 L550.58,215.69 L550.83,217.64 L551.07,220.03 L551.32,222.77 L551.57,225.74 L551.81,228.80 L552.06,231.81 L552.30,234.64 L552.55,237.16 L552.80,239.27 L553.04,240.89 L553.29,241.96 L553.53,242.44 L553.78,242.34 L554.03,241.69 L554.27,240.52 L554.52,238.92 L554.76,236.96 L555.01,234.73 L555.26,232.36 L555.50,229.95 L555.75,227.61 L555.99,225.47 L556.24,223.63 L556.48,222.20 L556.73,221.25 L556.98,220.88 L557.22,221.14 L557.47,222.06 L557.71,223.65 L557.96,225.90 L558.21,228.75 L558.45,232.13 L558.70,235.96 L558.94,240.11 L559.19,244.45 L559.44,248.85 L559.68,253.17 L559.93,257.28 L560.17,261.07 L560.42,264.46 L560.67,267.36 L560.91,269.74 L561.16,271.56 L561.40,272.82 L561.65,273.53 L561.90,273.73 L562.14,273.46 L562.39,272.75 L562.63,271.67 L562.88,270.27 L563.13,268.61 L563.37,266.74 L563.62,264.72 L563.86,262.59 L564.11,260.39 L564.36,258.17 L564.60,255.96 L564.85,253.78 L565.09,251.66 L565.34,249.63 L565.59,247.68 L565.83,245.84 L566.08,244.10 L566.32,242.48 L566.57,240.96 L566.81,239.56 L567.06,238.26 L567.31,237.06 L567.55,235.95 L567.80,234.93 L568.04,233.99 L568.29,233.12 L568.54,232.32 L568.78,231.57 L569.03,230.88 L569.27,230.24 L569.52,229.63 L569.77,229.07 L570.01,228.53 L570.26,228.02 L570.50,227.53 L570.75,227.07 L571.00,226.62 L571.24,226.19 L571.49,225.77 L571.73,225.36 L571.98,224.95 L572.23,224.56 L572.47,224.17 L572.72,223.78 L572.96,223.39 L573.21,223.01 L573.46,222.62 L573.70,222.23 L573.95,221.84 L574.19,221.44 L574.44,221.04 L574.69,220.62 L574.93,220.19 L575.18,219.75 L575.42,219.29 L575.67,218.82 L575.91,218.32 L576.16,217.80 L576.41,217.24 L576.65,216.66 L576.90,216.03 L577.14,215.36 L577.39,214.64 L577.64,213.87 L577.88,213.03 L578.13,212.12 L578.37,211.14 L578.62,210.07 L578.87,208.92 L579.11,207.66 L579.36,206.30 L579.60,204.84 L579.85,203.27 L580.10,201.58 L580.34,199.79 L580.59,197.89 L580.83,195.90 L581.08,193.82 L581.33,191.68 L581.57,189.48 L581.82,187.27 L582.06,185.07 L582.31,182.92 L582.56,180.85 L582.80,178.92 L583.05,177.17 L583.29,175.67 L583.54,174.45 L583.79,173.59 L584.03,173.14 L584.28,173.14 L584.52,173.63 L584.77,174.66 L585.01,176.25 L585.26,178.39 L585.51,181.07 L585.75,184.25 L586.00,187.87 L586.24,191.85 L586.49,196.08 L586.74,200.44 L586.98,204.80 L587.23,209.02 L587.47,212.98 L587.72,216.54 L587.97,219.61 L588.21,222.10 L588.46,223.95 L588.70,225.14 L588.95,225.66 L589.20,225.54 L589.44,224.83 L589.69,223.59 L589.93,221.91 L590.18,219.88 L590.43,217.62 L590.67,215.24 L590.92,212.84 L591.16,210.56 L591.41,208.48 L591.66,206.73 L591.90,205.38 L592.15,204.51 L592.39,204.18 L592.64,204.42 L592.89,205.25 L593.13,206.64 L593.38,208.55 L593.62,210.90 L593.87,213.61 L594.11,216.55 L594.36,219.59 L594.61,222.59 L594.85,225.43 L595.10,227.96 L595.34,230.09 L595.59,231.72 L595.84,232.79 L596.08,233.25 L596.33,233.12 L596.57,232.39 L596.82,231.11 L597.07,229.34 L597.31,227.16 L597.56,224.67 L597.80,221.95 L598.05,219.12 L598.30,216.30 L598.54,213.58 L598.79,211.07 L599.03,208.88 L599.28,207.08 L599.53,205.76 L599.77,204.96 L600.02,204.72 L600.26,205.04 L600.51,205.91 L600.76,207.30 L601.00,209.11 L601.25,211.28 L601.49,213.68 L601.74,216.20 L601.99,218.71 L602.23,221.08 L602.48,223.20 L602.72,224.99 L602.97,226.36 L603.21,227.28 L603.46,227.73 L603.71,227.73 L603.95,227.30 L604.20,226.51 L604.44,225.45 L604.69,224.20 L604.94,222.87 L605.18,221.56 L605.43,220.39 L605.67,219.44 L605.92,218.81 L606.17,218.57 L606.41,218.78 L606.66,219.45 L606.90,220.59 L607.15,222.18 L607.40,224.15 L607.64,226.42 L607.89,228.90 L608.13,231.46 L608.38,233.98 L608.63,236.33 L608.87,238.40 L609.12,240.07 L609.36,241.27 L609.61,241.94 L609.86,242.05 L610.10,241.58 L610.35,240.56 L610.59,239.04 L610.84,237.07 L611.09,234.74 L611.33,232.13 L611.58,229.35 L611.82,226.50 L612.07,223.70 L612.31,221.06 L612.56,218.68 L612.81,216.66 L613.05,215.09 L613.30,214.03 L613.54,213.55 L613.79,213.67 L614.04,214.41 L614.28,215.73 L614.53,217.59 L614.77,219.92 L615.02,222.62 L615.27,225.57 L615.51,228.63 L615.76,231.67 L616.00,234.55 L616.25,237.15 L616.50,239.35 L616.74,241.07 L616.99,242.24 L617.23,242.84 L617.48,242.86 L617.73,242.30 L617.97,241.23 L618.22,239.71 L618.46,237.81 L618.71,235.63 L618.96,233.29 L619.20,230.88 L619.45,228.54 L619.69,226.36 L619.94,224.47 L620.19,222.97 L620.43,221.95 L620.68,221.48 L620.92,221.64 L621.17,222.46 L621.41,223.95 L621.66,226.10 L621.91,228.87 L622.15,232.19 L622.40,235.96 L622.64,240.09 L622.89,244.43 L623.14,248.85 L623.38,253.22 L623.63,257.40 L623.87,261.28 L624.12,264.77 L624.37,267.79 L624.61,270.28 L624.86,272.23 L625.10,273.61 L625.35,274.45 L625.60,274.76 L625.84,274.59 L626.09,273.99 L626.33,273.00 L626.58,271.68 L626.83,270.09 L627.07,268.29 L627.32,266.32 L627.56,264.24 L627.81,262.08 L628.06,259.90 L628.30,257.72 L628.55,255.57 L628.79,253.48 L629.04,251.47 L629.29,249.55 L629.53,247.74 L629.78,246.03 L630.02,244.43 L630.27,242.95 L630.52,241.58 L630.76,240.32 L631.01,239.16 L631.25,238.10 L631.50,237.13 L631.74,236.24 L631.99,235.43 L632.24,234.69 L632.48,234.02 L632.73,233.40 L632.97,232.83 L633.22,232.31 L633.47,231.82 L633.71,231.38 L633.96,230.97 L634.20,230.58 L634.45,230.22 L634.70,229.89 L634.94,229.58 L635.19,229.28 L635.43,229.00 L635.68,228.74 L635.93,228.49 L636.17,228.26 L636.42,228.04 L636.66,227.82 L636.91,227.62 L637.16,227.43 L637.40,227.25 L637.65,227.07 L637.89,226.90 L638.14,226.74 L638.39,226.59 L638.63,226.44 L638.88,226.30 L639.12,226.16 L639.37,226.03 L639.62,225.91 L639.86,225.79 L640.11,225.67 L640.35,225.56 L640.60,225.45 L640.84,225.34 L641.09,225.24 L641.34,225.14 L641.58,225.05 L641.83,224.95 L642.07,224.86 L642.32,224.77 L642.57,224.69 L642.81,224.60 L643.06,224.52 L643.30,224.44 L643.55,224.36 L643.80,224.29 L644.04,224.21 L644.29,224.14 L644.53,224.07 L644.78,223.99 L645.03,223.92 L645.27,223.86 L645.52,223.79 L645.76,223.72 L646.01,223.65 L646.26,223.59 L646.50,223.52 L646.75,223.45 L646.99,223.39 L647.24,223.32 L647.49,223.26 L647.73,223.19 L647.98,223.13 L648.22,223.06 L648.47,223.00 L648.72,222.93 L648.96,222.86 L649.21,222.80 L649.45,222.73 L649.70,222.66 L649.94,222.59 L650.19,222.52 L650.44,222.45 L650.68,222.38 L650.93,222.31 L651.17,222.23 L651.42,222.15 L651.67,222.08 L651.91,222.00 L652.16,221.92 L652.40,221.83 L652.65,221.75 L652.90,221.66 L653.14,221.57 L653.39,221.47 L653.63,221.38 L653.88,221.28 L654.13,221.18 L654.37,221.07 L654.62,220.96 L654.86,220.85 L655.11,220.73 L655.36,220.61 L655.60,220.48 L655.85,220.35 L656.09,220.21 L656.34,220.07 L656.59,219.92 L656.83,219.76 L657.08,219.60 L657.32,219.43 L657.57,219.25 L657.82,219.06 L658.06,218.87 L658.31,218.66 L658.55,218.44 L658.80,218.21 L659.04,217.97 L659.29,217.71 L659.54,217.44 L659.78,217.15 L660.03,216.84 L660.27,216.51 L660.52,216.15 L660.77,215.77 L661.01,215.36 L661.26,214.92 L661.50,214.43 L661.75,213.91 L662.00,213.34 L662.24,212.72 L662.49,212.04 L662.73,211.29 L662.98,210.48 L663.23,209.58 L663.47,208.60 L663.72,207.53 L663.96,206.36 L664.21,205.08 L664.46,203.70 L664.70,202.20 L664.95,200.59 L665.19,198.87 L665.44,197.04 L665.69,195.12 L665.93,193.11 L666.18,191.02 L666.42,188.89 L666.67,186.73 L666.92,184.57 L667.16,182.46 L667.41,180.43 L667.65,178.53 L667.90,176.81 L668.14,175.32 L668.39,174.13 L668.64,173.27 L668.88,172.82 L669.13,172.82 L669.37,173.32 L669.62,174.35 L669.87,175.93 L670.11,178.07 L670.36,180.76 L670.60,183.96 L670.85,187.61 L671.10,191.64 L671.34,195.93 L671.59,200.37 L671.83,204.83 L672.08,209.17 L672.33,213.25 L672.57,216.96 L672.82,220.18 L673.06,222.84 L673.31,224.86 L673.56,226.22 L673.80,226.90 L674.05,226.95 L674.29,226.39 L674.54,225.29 L674.79,223.75 L675.03,221.85 L675.28,219.70 L675.52,217.41 L675.77,215.11 L676.02,212.90 L676.26,210.90 L676.51,209.21 L676.75,207.92 L677.00,207.12 L677.24,206.85 L677.49,207.16 L677.74,208.07 L677.98,209.55 L678.23,211.57 L678.47,214.05 L678.72,216.91 L678.97,220.03 L679.21,223.28 L679.46,226.51 L679.70,229.61 L679.95,232.43 L680.20,234.86 L680.44,236.82 L680.69,238.24 L680.93,239.08 L681.18,239.33 L681.43,239.00 L681.67,238.13 L681.92,236.79 L682.16,235.06 L682.41,233.03 L682.66,230.81 L682.90,228.50 L683.15,226.23 L683.39,224.11 L683.64,222.24 L683.89,220.74 L684.13,219.71 L684.38,219.22 L684.62,219.33 L684.87,220.10 L685.12,221.54 L685.36,223.63 L685.61,226.36 L685.85,229.64 L686.10,233.40 L686.35,237.53 L686.59,241.89 L686.84,246.35 L687.08,250.79 L687.33,255.05 L687.57,259.04 L687.82,262.65 L688.07,265.80 L688.31,268.42 L688.56,270.51 L688.80,272.03 L689.05,273.00 L689.30,273.44 L689.54,273.38 L689.79,272.89 L690.03,272.00 L690.28,270.77 L690.53,269.25 L690.77,267.51 L691.02,265.60 L691.26,263.56 L691.51,261.45 L691.76,259.29 L692.00,257.14 L692.25,255.01 L692.49,252.94 L692.74,250.94 L692.99,249.03 L693.23,247.22 L693.48,245.52 L693.72,243.93 L693.97,242.45 L694.22,241.08 L694.46,239.82 L694.71,238.67 L694.95,237.61 L695.20,236.65 L695.45,235.77 L695.69,234.97 L695.94,234.23 L696.18,233.57 L696.43,232.96 L696.67,232.40 L696.92,231.89 L697.17,231.42 L697.41,230.99 L697.66,230.59 L697.90,230.22 L698.15,229.87 L698.40,229.55 L698.64,229.25 L698.89,228.97 L699.13,228.71 L699.38,228.46 L699.63,228.23 L699.87,228.01 L700.12,227.80 L700.36,227.61 L700.61,227.42 L700.86,227.24 L701.10,227.08 L701.35,226.92 L701.59,226.77 L701.84,226.62 L702.09,226.48 L702.33,226.35 L702.58,226.23 L702.82,226.11 L703.07,226.00 L703.32,225.89 L703.56,225.78 L703.81,225.68 L704.05,225.59 L704.30,225.50 L704.55,225.41 L704.79,225.33 L705.04,225.25 L705.28,225.17 L705.53,225.10 L705.77,225.03 L706.02,224.96 L706.27,224.90 L706.51,224.83 L706.76,224.77 L707.00,224.71 L707.25,224.66 L707.50,224.61 L707.74,224.55 L707.99,224.50 L708.23,224.46 L708.48,224.41 L708.73,224.37 L708.97,224.32 L709.22,224.28 L709.46,224.24 L709.71,224.20 L709.96,224.16 L710.20,224.13 L710.45,224.09 L710.69,224.06 L710.94,224.03 L711.19,224.00 L711.43,223.96 L711.68,223.94 L711.92,223.91 L712.17,223.88 L712.42,223.85 L712.66,223.83 L712.91,223.80 L713.15,223.78 L713.40,223.75 L713.65,223.73 L713.89,223.71 L714.14,223.68 L714.38,223.66 L714.63,223.64 L714.87,223.62 L715.12,223.60 L715.37,223.58 L715.61,223.56 L715.86,223.55 L716.10,223.53 L716.35,223.51 L716.60,223.49 L716.84,223.48 L717.09,223.46 L717.33,223.45 L717.58,223.43 L717.83,223.42 L718.07,223.40 L718.32,223.39 L718.56,223.38 L718.81,223.36 L719.06,223.35 L719.30,223.34 L719.55,223.32 L719.79,223.31 L720.04,223.30 L720.29,223.29 L720.53,223.28 L720.78,223.27 L721.02,223.26 L721.27,223.25 L721.52,223.24 L721.76,223.23 L722.01,223.22 L722.25,223.21 L722.50,223.20 L722.75,223.19 L722.99,223.18 L723.24,223.17 L723.48,223.16 L723.73,223.15 L723.97,223.14 L724.22,223.14 L724.47,223.13 L724.71,223.12 L724.96,223.11 L725.20,223.10 L725.45,223.10 L725.70,223.09 L725.94,223.08 L726.19,223.08 L726.43,223.07 L726.68,223.06 L726.93,223.05 L727.17,223.05 L727.42,223.04 L727.66,223.04 L727.91,223.03 L728.16,223.02 L728.40,223.02 L728.65,223.01 L728.89,223.01 L729.14,223.00 L729.39,222.99 L729.63,222.99 L729.88,222.98 L730.12,222.98 L730.37,222.97 L730.62,222.97 L730.86,222.96 L731.11,222.96 L731.35,222.95 L731.60,222.95 L731.85,222.94 L732.09,222.94 L732.34,222.93 L732.58,222.93 L732.83,222.92 L733.07,222.92 L733.32,222.92 L733.57,222.91 L733.81,222.91 L734.06,222.90 L734.30,222.90 L734.55,222.89 L734.80,222.89 L735.04,222.89 L735.29,222.88 L735.53,222.88 L735.78,222.87 L736.03,222.87 L736.27,222.87 L736.52,222.86 L736.76,222.86 L737.01,222.86 L737.26,222.85 L737.50,222.85 L737.75,222.85 L737.99,222.84 L738.24,222.84 L738.49,222.84 L738.73,222.83 L738.98,222.83 L739.22,222.83 L739.47,222.82 L739.72,222.82 L739.96,222.82 L740.21,222.81 L740.45,222.81 L740.70,222.81 L740.95,222.80 L741.19,222.80 L741.44,222.80 L741.68,222.79 L741.93,222.79 L742.18,222.79 L742.42,222.79 L742.67,222.78 L742.91,222.78 L743.16,222.78 L743.40,222.77 L743.65,222.77 L743.90,222.77 L744.14,222.77 L744.39,222.76 L744.63,222.76 L744.88,222.76 L745.13,222.76 L745.37,222.75 L745.62,222.75 L745.86,222.75 L746.11,222.75 L746.36,222.74 L746.60,222.74 L746.85,222.74 L747.09,222.74 L747.34,222.73 L747.59,222.73 L747.83,222.73 L748.08,222.73 L748.32,222.72 L748.57,222.72 L748.82,222.72 L749.06,222.72 L749.31,222.72 L749.55,222.71 L749.80,222.71 L750.05,222.71 L750.29,222.71 L750.54,222.70 L750.78,222.70 L751.03,222.70 L751.28,222.70 L751.52,222.70 L751.77,222.69 L752.01,222.69 L752.26,222.69 L752.50,222.69 L752.75,222.69 L753.00,222.68 L753.24,222.68 L753.49,222.68 L753.73,222.68 L753.98,222.68 L754.23,222.67 L754.47,222.67 L754.72,222.67 L754.96,222.67 L755.21,222.67 L755.46,222.66 L755.70,222.66 L755.95,222.66 L756.19,222.66 L756.44,222.66 L756.69,222.66 L756.93,222.65 L757.18,222.65 L757.42,222.65 L757.67,222.65 L757.92,222.65 L758.16,222.64 L758.41,222.64 L758.65,222.64 L758.90,222.64 L759.15,222.64 L759.39,222.64 L759.64,222.63 L759.88,222.63 L760.13,222.63 L760.38,222.63 L760.62,222.63 L760.87,222.63 L761.11,222.62 L761.36,222.62 L761.60,222.62 L761.85,222.62 L762.10,222.62 L762.34,222.62 L762.59,222.61 L762.83,222.61 L763.08,222.61 L763.33,222.61 L763.57,222.61 L763.82,222.61 L764.06,222.60 L764.31,222.60 L764.56,222.60 L764.80,222.60 L765.05,222.60 L765.29,222.60 L765.54,222.59" fill="none" stroke="#f47a20" stroke-width="1.6" stroke-linejoin="round"/>
<text x="719.3" y="217.2" font-size="13.2" font-weight="bold" fill="#f47a20" stroke="#f47a20" stroke-width="0.25">Fitting</text>
<text x="46.2" y="80.9" font-size="19" fill="#231f20"  stroke="#231f20" stroke-width="0.25"><tspan dy="-7.30" font-size="13.00" font-style="italic">n</tspan><tspan dy="7.30">Bu</tspan><tspan dy="4.80" font-size="14.20">2</tspan><tspan dy="-4.80">NH</tspan></text>
<text x="116.1" y="77.9" font-size="17" fill="#231f20" stroke="#231f20" stroke-width="0.25">+</text>
<text x="130.6" y="78.2" font-size="19" fill="#231f20"  stroke="#231f20" stroke-width="0.25"><tspan dy="0.00" fill="#7a1219" stroke="#7a1219" stroke-width="0.25">CuBr</tspan><tspan dy="4.80" font-size="14.20" fill="#7a1219" stroke="#7a1219" stroke-width="0.25">2</tspan></text>
<text x="194.5" y="65.1" font-size="18.5" font-style="italic" fill="#231f20" stroke="#231f20" stroke-width="0.25">fast</text>
<line x1="185" y1="71.4" x2="232" y2="71.4" stroke="#000" stroke-width="2.7"/>
<path d="M246.9,71.4 L225.8,65.8 L229.5,71.4 L225.8,77 Z" fill="#000"/>
<text x="253" y="78.9" font-size="19" fill="#231f20"  stroke="#231f20" stroke-width="0.25"><tspan dy="-7.30" font-size="13.00" font-style="italic">n</tspan><tspan dy="7.30">Bu</tspan><tspan dy="4.80" font-size="14.20">2</tspan><tspan dy="-4.80">NH</tspan></text>
<text x="289.60" y="59.15" font-size="17.5" fill="#7a1219" stroke="#7a1219" stroke-width="0.45">+</text><circle cx="303.7" cy="52.5" r="2.25" fill="#7a1219"/>
<text x="44" y="234" font-size="19" fill="#231f20"  stroke="#231f20" stroke-width="0.25"><tspan dy="-7.30" font-size="13.00" font-style="italic">t</tspan><tspan dy="7.30">BuNH</tspan><tspan dy="4.80" font-size="14.20">2</tspan></text>
<text x="110" y="231.1" font-size="17" fill="#231f20" stroke="#231f20" stroke-width="0.25">+</text>
<text x="124.2" y="231.5" font-size="19" fill="#231f20"  stroke="#231f20" stroke-width="0.25"><tspan dy="0.00" fill="#7a1219" stroke="#7a1219" stroke-width="0.25">CuBr</tspan><tspan dy="4.80" font-size="14.20" fill="#7a1219" stroke="#7a1219" stroke-width="0.25">2</tspan></text>
<text x="188.5" y="218" font-size="18.5" font-style="italic" fill="#231f20" stroke="#231f20" stroke-width="0.25">slow</text>
<line x1="179.1" y1="225" x2="222" y2="225" stroke="#000" stroke-width="1.8" stroke-dasharray="5,5.5" stroke-dashoffset="2.3"/>
<path d="M240.4,225 L219.6,219.6 L222.8,225 L219.6,230 Z" fill="#000"/>
<text x="250" y="232.5" font-size="19" fill="#231f20"  stroke="#231f20" stroke-width="0.25"><tspan dy="-7.30" font-size="13.00" font-style="italic">t</tspan><tspan dy="7.30">BuNH</tspan><tspan dy="4.80" font-size="14.20">2</tspan></text>
<text x="283.65" y="212.20" font-size="17.5" fill="#7a1219" stroke="#7a1219" stroke-width="0.45">+</text><circle cx="297.6" cy="205.3" r="2.25" fill="#7a1219"/>
<text x="548.5" y="59.3" font-size="13" font-weight="bold" fill="#2a3590" stroke="#2a3590" stroke-width="0.25">CuBr<tspan font-size="10">2</tspan> + <tspan font-size="9.5" font-style="italic" dy="-4">t</tspan><tspan dy="4">BuNH</tspan><tspan font-size="10">2</tspan> + <tspan font-size="9.5" font-style="italic" dy="-4">n</tspan><tspan dy="4">Bu</tspan><tspan font-size="10">2</tspan>NH + DMPO</text>
<text x="23.5" y="377.5" font-size="19.12" fill="#231f20" stroke="#231f20" stroke-width="0.25"><tspan font-style="italic">g</tspan><tspan> = 2.0065, A</tspan><tspan font-size="14.2" dy="4.8">N</tspan><tspan dy="-4.8"> = 12.1 G, A</tspan><tspan font-size="14.2" dy="4.8">H</tspan><tspan dy="-4.8"> = 28.0 G</tspan></text>
<text x="473" y="359.3" font-size="19.12" fill="#231f20" stroke="#231f20" stroke-width="0.25"><tspan font-style="italic">g</tspan><tspan> = 2.0065, A</tspan><tspan font-size="14.2" dy="4.8">N</tspan><tspan dy="-4.8"> = 14.0 G</tspan></text>
<text x="473" y="383.9" font-size="19.12" fill="#231f20" stroke="#231f20" stroke-width="0.25"><tspan>A</tspan><tspan font-size="14.2" dy="4.8">H</tspan><tspan dy="-4.8"> = 18.0 G, A</tspan><tspan font-size="14.2" dy="4.8">N</tspan><tspan dy="-4.8"> = 1.67 G</tspan></text>
<text x="24.8" y="440.8" font-size="19" fill="#231f20"  stroke="#231f20" stroke-width="0.25"><tspan dy="-7.30" font-size="13.00" font-style="italic">n</tspan><tspan dy="7.30">Bu</tspan><tspan dy="4.80" font-size="14.20">2</tspan><tspan dy="-4.80">NH</tspan></text>
<line x1="109.8" y1="434.2" x2="262" y2="434.2" stroke="#000" stroke-width="2.5"/>
<path d="M275.9,434.2 L254.7,429.2 L258.5,434.2 L254.7,439.4 Z" fill="#000"/>
<text x="288.5" y="437.8" font-size="19" fill="#231f20"  stroke="#231f20" stroke-width="0.25"><tspan dy="-7.30" font-size="13.00" font-style="italic">n</tspan><tspan dy="7.30">Bu</tspan><tspan dy="4.80" font-size="14.20">2</tspan><tspan dy="-4.80">NH</tspan></text>
<text x="326.15" y="417.70" font-size="17.5" fill="#7a1219" stroke="#7a1219" stroke-width="0.45">+</text><circle cx="340.2" cy="411" r="2.25" fill="#7a1219"/>
<path d="M116,473.5 A48.5,44.5 0 0 1 207.9,461.3" fill="none" stroke="#231f20" stroke-width="1.7"/>
<path d="M212.4,474.5 L199.6,457.6 L207.3,461.2 L209.6,453 Z" fill="#231f20"/>
<text x="90.6" y="506.9" font-size="19" fill="#7a1219" stroke="#7a1219" stroke-width="0.25">[Cu<tspan font-size="14" dy="-7.3">II</tspan><tspan dy="7.3">]</tspan></text>
<text x="191.3" y="507.1" font-size="19" fill="#222470" stroke="#222470" stroke-width="0.25">[Cu<tspan font-size="14" font-weight="bold" stroke-width="0.9" dy="-7.3">I</tspan><tspan dy="7.3">]</tspan></text>
<path d="M116,529.5 A48.5,44.5 0 0 0 207.9,541.7" fill="none" stroke="#939598" stroke-width="1.7" stroke-dasharray="5,5"/>
<path d="M212.6,528.3 L199.4,545.3 L207.3,541.8 L209.2,549.5 Z" fill="#939598"/>
<line x1="119" y1="568.9" x2="258" y2="568.9" stroke="#939598" stroke-width="1.7" stroke-dasharray="5.3,5.5"/>
<path d="M278.5,568.6 L256.9,563 L260.6,568.6 L256.9,574.1 Z" fill="#939598"/>
<text x="30" y="574.9" font-size="19.4" fill="#939598"  stroke="#939598" stroke-width="0.25"><tspan dy="-7.45" font-size="13.27" font-style="italic">t</tspan><tspan dy="7.45">BuNH</tspan><tspan dy="4.90" font-size="14.50">2</tspan></text>
<text x="295" y="571.4" font-size="19" fill="#939598"  stroke="#939598" stroke-width="0.25"><tspan dy="-7.30" font-size="13.00" font-style="italic">t</tspan><tspan dy="7.30">BuNH</tspan><tspan dy="4.80" font-size="14.20">2</tspan></text>
<text x="326.35" y="557.10" font-size="17.5" fill="#939598" stroke="#939598" stroke-width="0.45">+</text><circle cx="340.4" cy="549.9" r="2.25" fill="#939598"/>
<text x="418.5" y="445.5" font-size="19" fill="#231f20"  stroke="#231f20" stroke-width="0.25"><tspan dy="-7.30" font-size="13.00" font-style="italic">n</tspan><tspan dy="7.30">Bu</tspan><tspan dy="4.80" font-size="14.20">2</tspan><tspan dy="-4.80">NH</tspan></text>
<text x="443.2" y="495.2" font-size="19" fill="#231f20" stroke="#231f20" stroke-width="0.25">+</text>
<text x="418" y="539.2" font-size="19" fill="#231f20"  stroke="#231f20" stroke-width="0.25"><tspan dy="-7.30" font-size="13.00" font-style="italic">t</tspan><tspan dy="7.30">BuNH</tspan><tspan dy="4.80" font-size="14.20">2</tspan></text>
<line x1="497.2" y1="486.5" x2="568" y2="486.5" stroke="#000" stroke-width="2.6"/>
<path d="M581.7,486.5 L559.8,480.4 L563.6,486.5 L559.8,492.1 Z" fill="#000"/>
<text x="513.8" y="479.2" font-size="19" fill="#7a1219" stroke="#7a1219" stroke-width="0.25">[Cu<tspan font-size="14" dy="-7.3">II</tspan><tspan dy="7.3">]</tspan></text>
<text x="503.5" y="512.5" font-size="19" fill="#231f20" stroke="#231f20" stroke-width="0.25">DMPO</text>
<text x="614" y="426.4" font-size="19" fill="#231f20" stroke="#231f20" stroke-width="0.25">DMPO</text>
<line x1="670.9" y1="419" x2="688.6" y2="419" stroke="#231f20" stroke-width="1.6"/>
<text x="690.8" y="426.4" font-size="19" fill="#231f20"  stroke="#231f20" stroke-width="0.25"><tspan dy="0.00">N</tspan><tspan dy="-7.30" font-size="13.00" font-style="italic">n</tspan><tspan dy="7.30">Bu</tspan><tspan dy="4.80" font-size="14.20">2</tspan></text>
<g stroke="#231f20" stroke-width="1.6" fill="none" stroke-linecap="butt">
<path d="M645.7,508 L628,493.9 L638.5,461.8 L672.9,461.8 L682.9,493.9 L664.4,508.4"/>
<path d="M628,493.9 L595,483.2 M628,493.9 L608.6,523.1 M682.9,493.9 L705.6,499.9 M654.8,524.3 L653.9,538.8"/>
</g>
<text x="648.2" y="520.5" font-size="19" fill="#231f20" stroke="#231f20" stroke-width="0.25">N</text>
<text x="645.6" y="554.8" font-size="19" fill="#231f20" stroke="#231f20" stroke-width="0.25">O</text>
<circle cx="667.9" cy="545.6" r="3.1" fill="#7a1219"/>
<text x="709.5" y="510.2" font-size="19" fill="#231f20"  stroke="#231f20" stroke-width="0.25"><tspan dy="0.00">N</tspan><tspan dy="-7.30" font-size="13.00" font-style="italic">n</tspan><tspan dy="7.30">Bu</tspan><tspan dy="4.80" font-size="14.20">2</tspan></text>
<text x="422" y="572.8" font-size="19" fill="#231f20" stroke="#231f20" stroke-width="0.25">HR-MS (ESI):</text>
<text x="421.5" y="594.2" font-size="19" fill="#231f20" stroke="#231f20" stroke-width="0.25">required: 241.2274, found: 241.2283.</text>
</svg></body></html>
